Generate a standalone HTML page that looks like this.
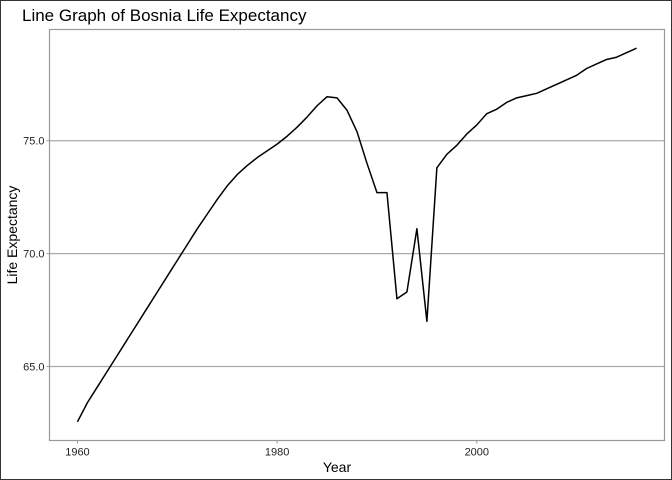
<!DOCTYPE html>
<html><head><meta charset="utf-8"><style>
html,body{margin:0;padding:0;background:#fff}
svg{display:block;font-family:"Liberation Sans",Arial,sans-serif}
</style></head><body>
<svg id="chart" width="672" height="480" viewBox="0 0 672 480">
<rect x="0.5" y="0.5" width="671" height="479" fill="#fff" stroke="#333" stroke-width="1"/>
<text x="22" y="21" font-size="17" fill="#000">Line Graph of Bosnia Life Expectancy</text>
<g id="grid"></g>
<rect x="49.5" y="29.5" width="615" height="411" fill="none" stroke="#999" stroke-width="1.2"/>
<g id="yticks"></g>
<g id="xticks"></g>
<path id="line" fill="none" stroke="#000" stroke-width="1.5" stroke-linejoin="round"/>
<text x="337" y="472" font-size="14" text-anchor="middle">Year</text>
<text transform="translate(17,235) rotate(-90)" font-size="14" text-anchor="middle">Life Expectancy</text>
</svg>
<script>
const years = [];
for (let y = 1960; y <= 2016; y++) years.push(y);
const lifeExp = [62.55,63.4,64.1,64.8,65.5,66.2,66.9,67.6,68.3,69.0,69.7,70.4,71.1,71.75,72.4,73.0,73.5,73.9,74.25,74.55,74.85,75.2,75.6,76.05,76.55,76.95,76.9,76.35,75.4,74.0,72.7,72.7,68.0,68.3,71.1,67.0,73.8,74.4,74.8,75.3,75.7,76.2,76.4,76.7,76.9,77.0,77.1,77.3,77.5,77.7,77.9,78.2,78.4,78.6,78.7,78.9,79.1];
const yTicks = [65, 70, 75];
const yTickLabels = ["65.0","70.0","75.0"];
const xTicks = [1960, 1980, 2000];
const xTickLabels = ["1960","1980","2000"];

const NS = "http://www.w3.org/2000/svg";
const L = 49.5, R = 664.5, T = 29.5, B = 440.5;
const xMin = 1960 - 2.8, xMax = 2016 + 2.8;
const yMin = 62.55 - 0.8275, yMax = 79.1 + 0.8275;
const xs = v => L + (v - xMin) / (xMax - xMin) * (R - L);
const ys = v => B - (v - yMin) / (yMax - yMin) * (B - T);

const grid = document.getElementById('grid');
const yt = document.getElementById('yticks');
yTicks.forEach((t, i) => {
  const ln = document.createElementNS(NS, 'line');
  
  
  ln.setAttribute('x1', L); ln.setAttribute('x2', R);
  ln.setAttribute('y1', ys(t)); ln.setAttribute('y2', ys(t));
  ln.setAttribute('stroke', '#aaa'); ln.setAttribute('stroke-width', '1.2');
  grid.appendChild(ln);
  const tk = document.createElementNS(NS, 'line');
  
  
  tk.setAttribute('x1', L - 3); tk.setAttribute('x2', L);
  tk.setAttribute('y1', ys(t)); tk.setAttribute('y2', ys(t));
  tk.setAttribute('stroke', '#999');
  yt.appendChild(tk);
  const tx = document.createElementNS(NS, 'text');
  
  
  tx.setAttribute('x', L - 5); tx.setAttribute('y', ys(t) + 4);
  tx.setAttribute('font-size', '11'); tx.setAttribute('text-anchor', 'end');
  tx.setAttribute('fill', '#222');
  tx.textContent = yTickLabels[i];
  yt.appendChild(tx);
});
const xt = document.getElementById('xticks');
xTicks.forEach((t, i) => {
  const tk = document.createElementNS(NS, 'line');
  
  
  tk.setAttribute('x1', xs(t)); tk.setAttribute('x2', xs(t));
  tk.setAttribute('y1', B); tk.setAttribute('y2', B + 3);
  tk.setAttribute('stroke', '#999');
  xt.appendChild(tk);
  const tx = document.createElementNS(NS, 'text');
  
  
  tx.setAttribute('x', xs(t)); tx.setAttribute('y', B + 15);
  tx.setAttribute('font-size', '11'); tx.setAttribute('text-anchor', 'middle');
  tx.setAttribute('fill', '#222');
  tx.textContent = xTickLabels[i];
  xt.appendChild(tx);
});
document.getElementById('line').setAttribute('d',
  years.map((yr, i) => (i ? 'L' : 'M') + xs(yr).toFixed(2) + ',' + ys(lifeExp[i]).toFixed(2)).join(''));
</script>
</body></html>
